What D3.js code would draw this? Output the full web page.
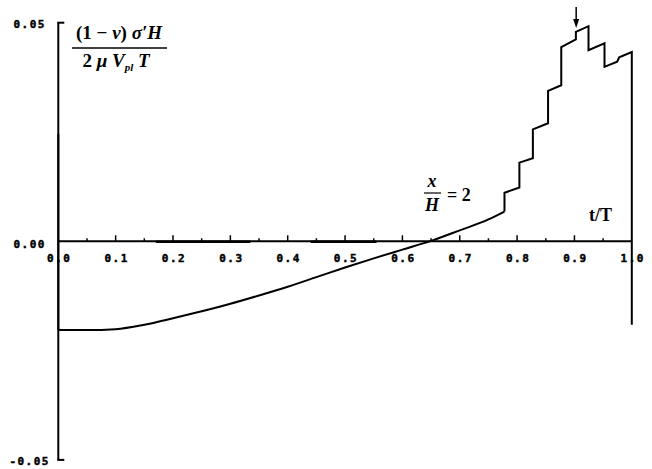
<!DOCTYPE html>
<html>
<head>
<meta charset="utf-8">
<script src="https://cdn.jsdelivr.net/npm/d3@7"></script>
<style>
  html, body { margin: 0; padding: 0; background: #fff; }
  svg { display: block; }
  .tick-label { font-family: "DejaVu Sans Mono", monospace; font-weight: bold; font-size: 11px; letter-spacing: 1.5px; fill: #000; stroke: #000; stroke-width: 0.45px; }
  .math { font-family: "Liberation Serif", "DejaVu Serif", serif; fill: #000; }
</style>
</head>
<body>
<svg id="chart" width="652" height="469"></svg>
<script>
// Normalised stress history at x/H = 2
// jump at the start
const startT = [0, 0];
const startValues = [0.0245, -0.0203];
// smooth build-up before the first slip event
const smoothT = [0, 0.05, 0.10, 0.15, 0.20, 0.25, 0.30, 0.35, 0.40, 0.45, 0.50, 0.55, 0.60, 0.65, 0.70, 0.75, 0.778];
const smoothValues = [-0.0203, -0.0203, -0.0201, -0.0191, -0.0176, -0.0160, -0.0143, -0.0124, -0.0104, -0.0082,
  -0.0060, -0.0039, -0.0019, 0.0001, 0.0025, 0.0050, 0.0068];
// stepwise part with slip events
const stepT = [0.778, 0.778, 0.804, 0.804, 0.8275, 0.8275, 0.854, 0.854, 0.877, 0.877, 0.9025, 0.9025,
  0.9245, 0.9245, 0.9524, 0.9524, 0.9745, 0.978, 1.0, 1.0];
const stepValues = [0.0068, 0.0111, 0.0123, 0.0180, 0.0190, 0.0256, 0.0270, 0.0344, 0.0357, 0.0444, 0.0462, 0.0479,
  0.0492, 0.0437, 0.0453, 0.0399, 0.0411, 0.0421, 0.0433, -0.0191];

// Short flat stretches lying along the zero line
const flatT = [0.17, 0.335, 0.44, 0.555];
const flatValues = [-0.0001, -0.0001, -0.0001, -0.0001];

const xTickValues = [0.0, 0.1, 0.2, 0.3, 0.4, 0.5, 0.6, 0.7, 0.8, 0.9, 1.0];
const xTickLabels = ["0.0", "0.1", "0.2", "0.3", "0.4", "0.5", "0.6", "0.7", "0.8", "0.9", "1.0"];
const xMinorTicks = [0.05, 0.15, 0.25, 0.35, 0.45, 0.55, 0.65, 0.75, 0.85, 0.95];
const yTickValues = [0.05, 0.0, -0.05];
const yTickLabels = ["0.05", "0.00", "-0.05"];
const arrowT = 0.903;

const svg = d3.select("#chart");
const x = d3.scaleLinear().domain([0, 1]).range([58.3, 631.8]);
const y = d3.scaleLinear().domain([-0.05, 0.05]).range([459.9, 22.7]);

// y axis: vertical bar with bracket ends
svg.append("line").attr("x1", x(0)).attr("x2", x(0)).attr("y1", y(0.05)).attr("y2", y(-0.05))
  .attr("stroke", "#000").attr("stroke-width", 2);
[0.05, -0.05].forEach(v => {
  svg.append("line").attr("x1", x(0) - 1).attr("x2", x(0) + 6).attr("y1", y(v)).attr("y2", y(v))
    .attr("stroke", "#000").attr("stroke-width", 2);
});

// x axis along zero
svg.append("line").attr("x1", x(0)).attr("x2", x(1)).attr("y1", y(0)).attr("y2", y(0))
  .attr("stroke", "#000").attr("stroke-width", 2);
svg.selectAll(".xmaj").data(xTickValues.slice(1, -1)).enter().append("line")
  .attr("x1", d => x(d)).attr("x2", d => x(d)).attr("y1", y(0)).attr("y2", y(0) - 6)
  .attr("stroke", "#000").attr("stroke-width", 1.5);
svg.selectAll(".xmin").data(xMinorTicks).enter().append("line")
  .attr("x1", d => x(d)).attr("x2", d => x(d)).attr("y1", y(0)).attr("y2", y(0) - 3)
  .attr("stroke", "#000").attr("stroke-width", 1.5);

svg.selectAll(".xl").data(xTickValues).enter().append("text")
  .attr("class", "tick-label").attr("x", d => x(d) + 1).attr("y", y(0) + 21)
  .attr("text-anchor", "middle").text((d, i) => xTickLabels[i]);
svg.selectAll(".yl").data(yTickValues).enter().append("text")
  .attr("class", "tick-label").attr("x", (d, i) => i === 2 ? 50 : 46).attr("y", (d, i) => y(d) + (i === 1 ? 7 : 5))
  .attr("text-anchor", "end").text((d, i) => yTickLabels[i]);

// data curves
const line = d3.line().x(d => x(d[0])).y(d => y(d[1]));
const smoothLine = d3.line().x(d => x(d[0])).y(d => y(d[1])).curve(d3.curveMonotoneX);
const pairs = (ts, vs) => ts.map((t, i) => [t, vs[i]]);
svg.append("path").datum(pairs(startT, startValues))
  .attr("d", line).attr("fill", "none").attr("stroke", "#000").attr("stroke-width", 2);
svg.append("path").datum(pairs(smoothT, smoothValues))
  .attr("d", smoothLine).attr("fill", "none").attr("stroke", "#000").attr("stroke-width", 2);
svg.append("path").datum(pairs(stepT, stepValues))
  .attr("d", line).attr("fill", "none").attr("stroke", "#000").attr("stroke-width", 2)
  .attr("stroke-linejoin", "miter");
svg.append("path").datum(pairs(flatT.slice(0, 2), flatValues.slice(0, 2)))
  .attr("d", line).attr("fill", "none").attr("stroke", "#000").attr("stroke-width", 2.6);
svg.append("path").datum(pairs(flatT.slice(2), flatValues.slice(2)))
  .attr("d", line).attr("fill", "none").attr("stroke", "#000").attr("stroke-width", 2.6);

// arrow marking the peak step
const ax = x(arrowT);
svg.append("line").attr("x1", ax).attr("x2", ax).attr("y1", 7).attr("y2", 22)
  .attr("stroke", "#000").attr("stroke-width", 1.5);
svg.append("path").attr("d", `M${ax - 3},19 L${ax + 3},19 L${ax},28 Z`).attr("fill", "#000");

// axis title: normalised stress
const g = svg.append("g").attr("class", "math").style("font-size", "19px").style("font-weight", "bold");
const num = g.append("text").attr("x", 119).attr("y", 39).attr("text-anchor", "middle");
num.append("tspan").text("(1 \u2212 ");
num.append("tspan").attr("font-style", "italic").text("\u03bd");
num.append("tspan").text(") ");
num.append("tspan").attr("font-style", "italic").text("\u03c3\u2032H");
svg.append("line").attr("x1", 72).attr("x2", 167).attr("y1", 48).attr("y2", 48).attr("stroke", "#000").attr("stroke-width", 1.3);
const den = g.append("text").attr("x", 116).attr("y", 67).attr("text-anchor", "middle");
den.append("tspan").text("2 ");
den.append("tspan").attr("font-style", "italic").text("\u03bc V");
den.append("tspan").attr("font-style", "italic").attr("font-size", "11px").attr("dy", 4).text("pl");
den.append("tspan").attr("font-style", "italic").attr("dy", -4).text(" T");

// position label x/H = 2
const g2 = svg.append("g").attr("class", "math").style("font-size", "18px").style("font-weight", "bold");
g2.append("text").attr("x", 432).attr("y", 187).attr("text-anchor", "middle").attr("font-style", "italic").text("x");
svg.append("line").attr("x1", 424).attr("x2", 441).attr("y1", 193).attr("y2", 193).attr("stroke", "#000").attr("stroke-width", 1.2);
g2.append("text").attr("x", 432).attr("y", 211).attr("text-anchor", "middle").attr("font-style", "italic").text("H");
g2.append("text").attr("x", 447).attr("y", 201).text("= 2");

// time axis label
svg.append("text").attr("class", "math").attr("x", 589).attr("y", 221)
  .style("font-size", "18px").style("font-weight", "bold").text("t/T");
</script>
</body>
</html>
